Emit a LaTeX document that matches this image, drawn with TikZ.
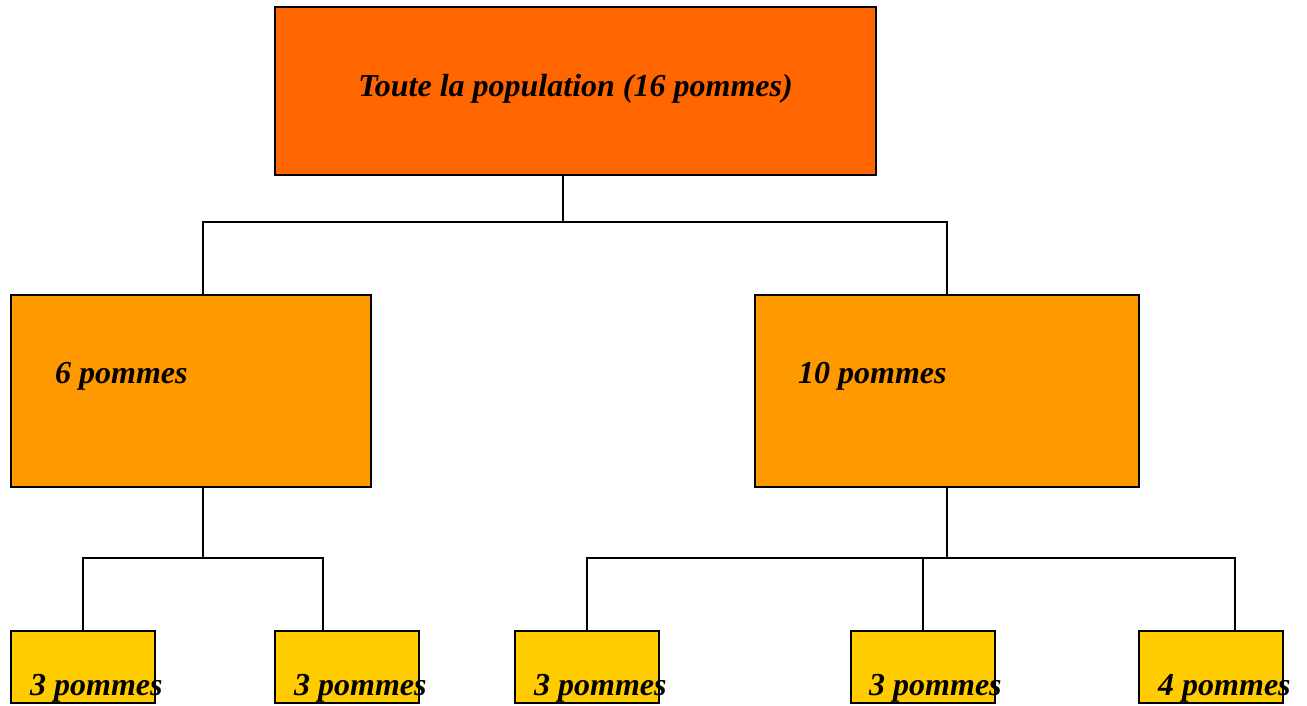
\documentclass[tikz,border=0pt]{standalone}
\usepackage{fontspec}
\setmainfont{Liberation Serif}
\definecolor{topc}{HTML}{FF6600}
\definecolor{midc}{HTML}{FF9900}
\definecolor{botc}{HTML}{FFCC00}
\begin{document}
\begin{tikzpicture}[x=1pt,y=-1pt,
  box/.style={draw=black,line width=1.3pt,inner sep=0pt,outer sep=0pt,minimum width=#1},
  lbl/.style={inner sep=0pt,font=\fontsize{32}{38}\selectfont\bfseries\itshape},
  conn/.style={draw=black,line width=1.3pt}]
\useasboundingbox (0,0) rectangle (1307,705);
% boxes
\node[box=601pt,minimum height=168pt,fill=topc] (top) at (575.5,91) {};
\node[box=360pt,minimum height=192pt,fill=midc] (mL) at (191,391) {};
\node[box=384pt,minimum height=192pt,fill=midc] (mR) at (947,391) {};
\node[box=144pt,minimum height=72pt,fill=botc] (b1) at (83,667) {};
\node[box=144pt,minimum height=72pt,fill=botc] (b2) at (347,667) {};
\node[box=144pt,minimum height=72pt,fill=botc] (b3) at (587,667) {};
\node[box=144pt,minimum height=72pt,fill=botc] (b4) at (923,667) {};
\node[box=144pt,minimum height=72pt,fill=botc] (b5) at (1211,667) {};
% labels
\node[lbl,anchor=base] (ttop) at (575.5,96) {Toute la population (16 pommes)};
\node[lbl,anchor=base west] (tmL) at (55,383) {6 pommes};
\node[lbl,anchor=base west] (tmR) at (798,383) {10 pommes};
\node[lbl,anchor=base west] (tb1) at (30,695) {3 pommes};
\node[lbl,anchor=base west] (tb2) at (294,695) {3 pommes};
\node[lbl,anchor=base west] (tb3) at (534,695) {3 pommes};
\node[lbl,anchor=base west] (tb4) at (869,695) {3 pommes};
\node[lbl,anchor=base west] (tb5) at (1158,695) {4 pommes};
% junctions
\coordinate (a) at (563,222);
\coordinate (aL) at (203,222);
\coordinate (aR) at (947,222);
\coordinate (cL) at (203,558);
\coordinate (cL1) at (83,558);
\coordinate (cL2) at (323,558);
\coordinate (cR) at (947,558);
\coordinate (cR1) at (587,558);
\coordinate (cR2) at (923,558);
\coordinate (cR3) at (1235,558);
% connectors
\draw[conn] (top.south -| a) -- (a);
\draw[conn] (aL |- mL.north) -- (aL) -- (aR) -- (aR |- mR.north);
\draw[conn] (mL.south -| cL) -- (cL);
\draw[conn] (cL1 |- b1.north) -- (cL1) -- (cL2) -- (cL2 |- b2.north);
\draw[conn] (mR.south -| cR) -- (cR);
\draw[conn] (cR1 |- b3.north) -- (cR1) -- (cR3) -- (cR3 |- b5.north);
\draw[conn] (cR2) -- (cR2 |- b4.north);
\end{tikzpicture}
\end{document}
